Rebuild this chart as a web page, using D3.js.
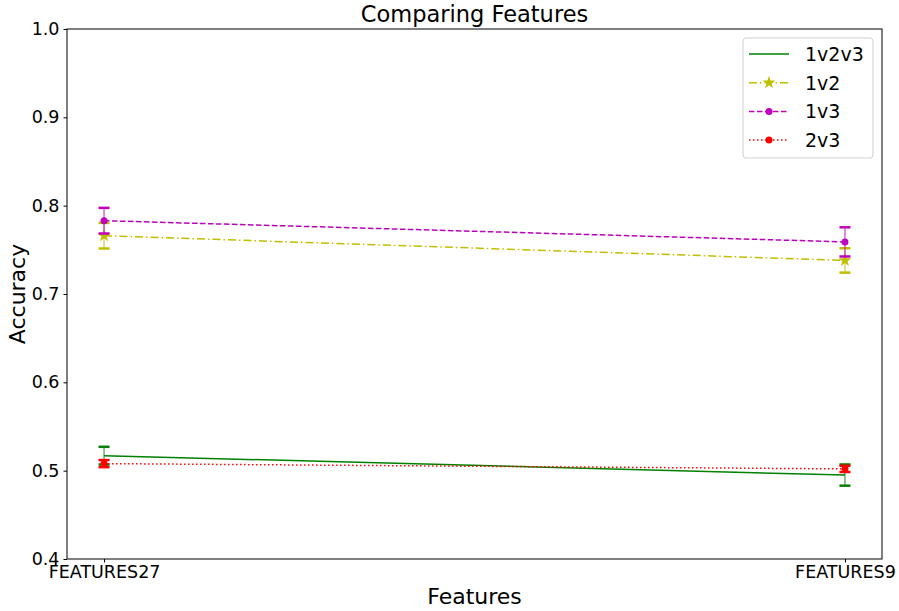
<!DOCTYPE html>
<html>
<head>
<meta charset="utf-8">
<script src="https://cdn.jsdelivr.net/npm/d3@7"></script>
<style>
  body { margin: 0; background: #fff; }
  text { font-family: "DejaVu Sans", sans-serif; fill: #000; }
</style>
</head>
<body>
<svg id="chart" width="899" height="611"></svg>
<script>
// Feature sets compared
const categories = ["FEATURES27", "FEATURES9"];

// Mean accuracy per comparison
const acc1v2v3 = [0.517, 0.495];
const acc1v2   = [0.766, 0.738];
const acc1v3   = [0.783, 0.759];
const acc2v3   = [0.508, 0.502];

// Error bar half-widths
const err1v2v3 = [0.010, 0.012];
const err1v2   = [0.0145, 0.0138];
const err1v3   = [0.0145, 0.0165];
const err2v3   = [0.004, 0.0035];

const yTicks = [0.4, 0.5, 0.6, 0.7, 0.8, 0.9, 1.0];

const series = [
  { name: "1v2v3", values: acc1v2v3, errs: err1v2v3, color: "#008000", dash: null, marker: null },
  { name: "1v2",   values: acc1v2,   errs: err1v2,   color: "#bfbf00", dash: "8,3,1.5,3", marker: "star" },
  { name: "1v3",   values: acc1v3,   errs: err1v3,   color: "#bf00bf", dash: "5.5,2.5", marker: "circle" },
  { name: "2v3",   values: acc2v3,   errs: err2v3,   color: "#ff0000", dash: "1.5,2.5", marker: "circle" }
];

const margin = { left: 67, right: 17, top: 29, bottom: 52 };
const W = 899, H = 611;
const plotW = W - margin.left - margin.right;
const plotH = H - margin.top - margin.bottom;

const svg = d3.select("#chart");
const g = svg.append("g").attr("transform", `translate(${margin.left},${margin.top})`);

// two-point categorical axis with 5% margins on either side
const xPos = d3.scaleLinear().domain([-0.05, 1.05]).range([0, plotW]);
const xc = c => xPos(categories.indexOf(c));
const y = d3.scaleLinear().domain([0.4, 1.0]).range([plotH, 0]);

// axes
const xAxis = d3.axisBottom(xPos).tickValues([0, 1]).tickFormat(i => categories[i]).tickSize(3.5).tickPadding(3.5);
const yAxis = d3.axisLeft(y).tickValues(yTicks).tickFormat(d3.format(".1f")).tickSize(3.5).tickPadding(4);

const gx = g.append("g").attr("transform", `translate(0,${plotH})`).call(xAxis);
const gy = g.append("g").call(yAxis);
[gx, gy].forEach(a => {
  a.select(".domain").remove();
  a.selectAll("line").attr("stroke", "#000").attr("stroke-width", 1);
  a.selectAll("text").style("font-size", "17.5px").style("font-family", "DejaVu Sans, sans-serif");
});

// frame
g.append("rect").attr("x", 0).attr("y", 0).attr("width", plotW).attr("height", plotH)
  .attr("fill", "none").attr("stroke", "#000").attr("stroke-width", 1);

const line = d3.line().x((d, i) => xc(categories[i])).y(d => y(d));

function drawMarker(sel, type, color, size) {
  if (type === "star") {
    sel.append("path").attr("d", d3.symbol(d3.symbolStar, size * 9)()).attr("fill", color);
  } else if (type === "circle") {
    sel.append("circle").attr("r", size / 2 + 0.5).attr("fill", color);
  }
}

series.forEach(s => {
  const sg = g.append("g");
  // error bars
  s.values.forEach((v, i) => {
    const cx = xc(categories[i]);
    const lo = y(v - s.errs[i]), hi = y(v + s.errs[i]);
    sg.append("line").attr("x1", cx).attr("x2", cx).attr("y1", lo).attr("y2", hi)
      .attr("stroke", s.color).attr("stroke-width", 1.5).attr("opacity", 0.6);
    [lo, hi].forEach(yy => sg.append("line").attr("x1", cx - 5.5).attr("x2", cx + 5.5)
      .attr("y1", yy).attr("y2", yy).attr("stroke", s.color).attr("stroke-width", 2.5));
  });
  // line
  sg.append("path").datum(s.values).attr("d", line).attr("fill", "none")
    .attr("stroke", s.color).attr("stroke-width", 1.5)
    .attr("stroke-dasharray", s.dash);
  // markers
  s.values.forEach((v, i) => {
    const m = sg.append("g").attr("transform", `translate(${xc(categories[i])},${y(v)})`);
    drawMarker(m, s.marker, s.color, 6);
  });
});

// title and axis labels
svg.append("text").attr("x", margin.left + plotW / 2).attr("y", 22).attr("text-anchor", "middle")
  .style("font-size", "22.5px").text("Comparing Features");
svg.append("text").attr("x", margin.left + plotW / 2).attr("y", 604).attr("text-anchor", "middle")
  .style("font-size", "22px").text("Features");
svg.append("text").attr("transform", `translate(25,${margin.top + plotH / 2}) rotate(-90)`)
  .attr("text-anchor", "middle").style("font-size", "22px").text("Accuracy");

// legend
const lg = svg.append("g").attr("transform", "translate(743,38)");
lg.append("rect").attr("width", 130).attr("height", 120).attr("rx", 3)
  .attr("fill", "#fff").attr("fill-opacity", 0.8).attr("stroke", "#d0d0d0").attr("stroke-width", 1);
series.forEach((s, i) => {
  const yy = 16 + i * 28.7;
  lg.append("line").attr("x1", 6).attr("x2", 46).attr("y1", yy).attr("y2", yy)
    .attr("stroke", s.color).attr("stroke-width", 1.5).attr("stroke-dasharray", s.dash);
  const m = lg.append("g").attr("transform", `translate(26,${yy})`);
  drawMarker(m, s.marker, s.color, 6);
  lg.append("text").attr("x", 62).attr("y", yy + 7).style("font-size", "19px").text(s.name);
});
</script>
</body>
</html>
